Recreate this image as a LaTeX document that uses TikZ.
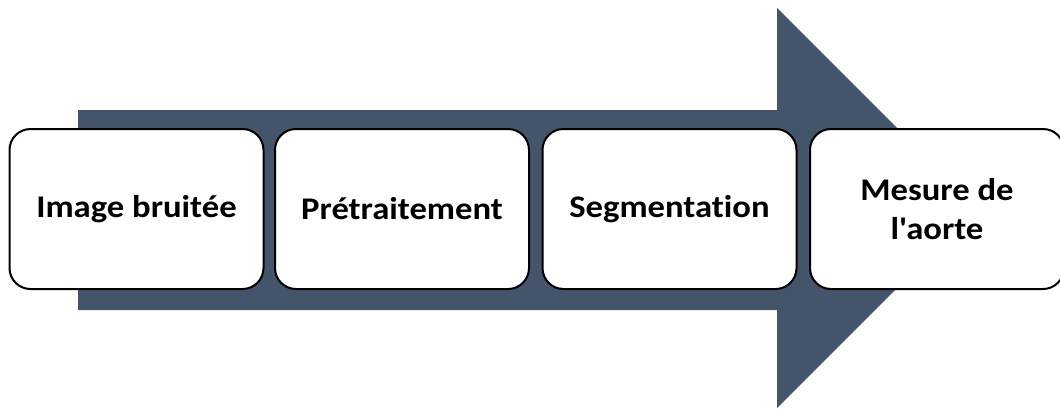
\documentclass[tikz,border=0pt]{standalone}
\usepackage{fontspec}
\setmainfont{Carlito}[FakeStretch=1.10, RawFeature=-liga, Ligatures=TeXOff]
\definecolor{flowblue}{HTML}{44546A}
\begin{document}
\begin{tikzpicture}[x=1pt,y=-1pt,
  stage/.style={draw=black, line width=2pt, fill=white, rounded corners=21pt,
    minimum width=254pt, minimum height=160pt, inner sep=0pt, align=center,
    font=\fontsize{31.5}{39}\selectfont\bfseries}]
  \useasboundingbox (0,0) rectangle (1060,408);
  \clip (0,0) rectangle (1060,408);
  % broad process arrow behind the stages
  \fill[flowblue] (78,110) -- (777,110) -- (777,8) -- (977,208)
    -- (777,408) -- (777,310) -- (78,310) -- cycle;
  % stages
  \node[stage] (s1) at (136.5,209) {Image bruitée};
  \node[stage] (s2) at (402,209) {Prétraitement};
  \node[stage] (s3) at (669.5,209) {Segmentation};
  \node[stage] (s4) at (937,209) {Mesure de\\l'aorte};
\end{tikzpicture}
\end{document}
